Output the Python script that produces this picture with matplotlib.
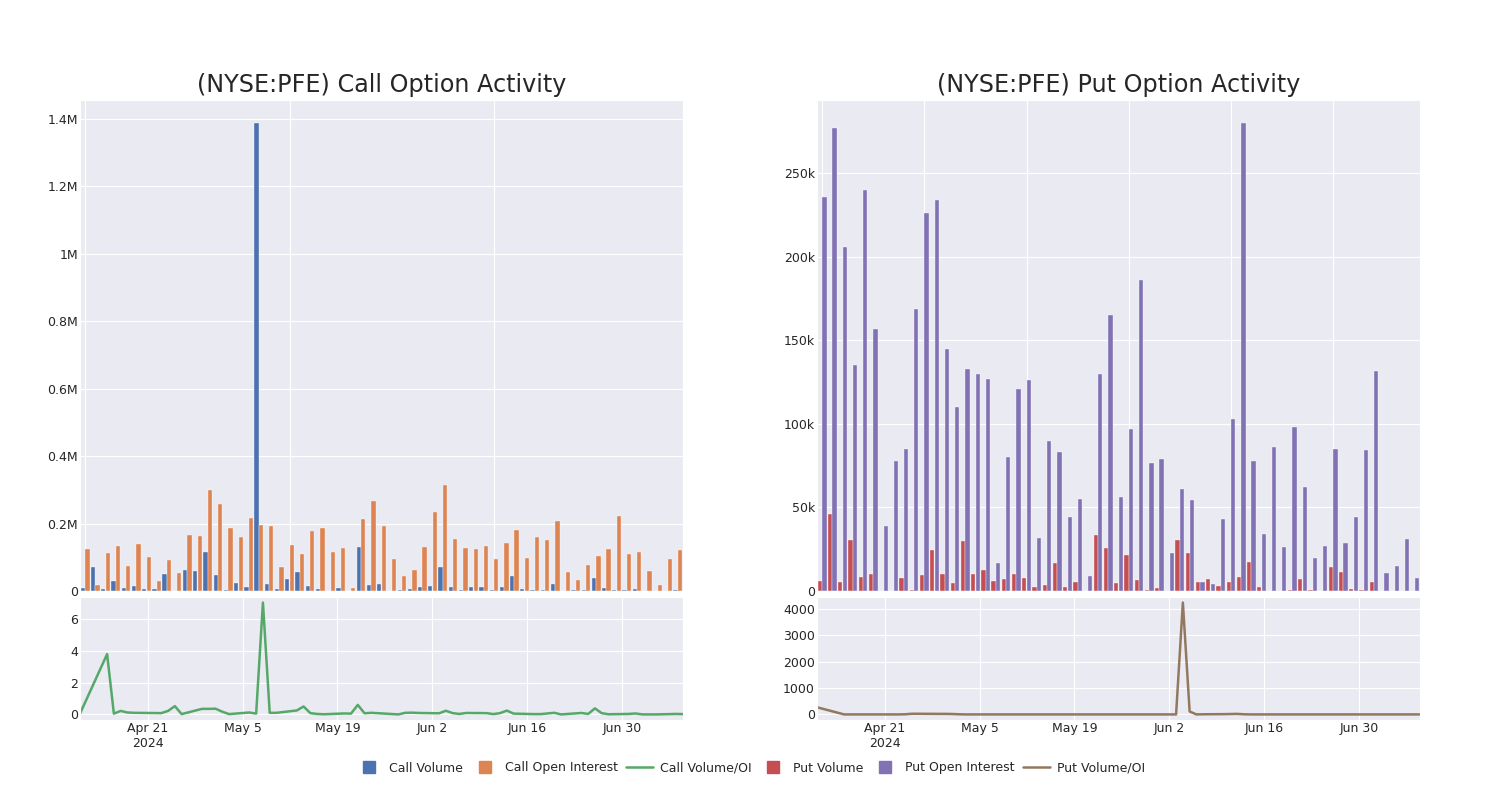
import numpy as np
import pandas as pd
import matplotlib
matplotlib.use("Agg")
import matplotlib.pyplot as plt
from matplotlib.ticker import FuncFormatter, MultipleLocator
from matplotlib.lines import Line2D
import seaborn as sns

sns.set_style("darkgrid")
plt.rcParams['font.family'] = ['DejaVu Sans']

# Fechas de negociación (59 sesiones)
fechas = pd.to_datetime([
    "2024-04-11", "2024-04-15", "2024-04-16", "2024-04-17", "2024-04-18",
    "2024-04-19", "2024-04-23", "2024-04-24", "2024-04-25", "2024-04-26",
    "2024-04-29", "2024-04-30", "2024-05-01", "2024-05-02", "2024-05-03",
    "2024-05-06", "2024-05-07", "2024-05-08", "2024-05-09", "2024-05-10",
    "2024-05-13", "2024-05-14", "2024-05-15", "2024-05-16", "2024-05-17",
    "2024-05-20", "2024-05-21", "2024-05-22", "2024-05-23", "2024-05-24",
    "2024-05-28", "2024-05-29", "2024-05-30", "2024-05-31", "2024-06-03",
    "2024-06-04", "2024-06-05", "2024-06-06", "2024-06-07", "2024-06-10",
    "2024-06-11", "2024-06-12", "2024-06-13", "2024-06-14", "2024-06-17",
    "2024-06-18", "2024-06-20", "2024-06-21", "2024-06-24", "2024-06-25",
    "2024-06-26", "2024-06-27", "2024-06-28", "2024-07-01", "2024-07-02",
    "2024-07-03", "2024-07-05", "2024-07-08", "2024-07-09",
])

# Calls (valores en millones)
call_volume = [
    0.010, 0.071, 0.006, 0.031, 0.009, 0.015, 0.007, 0.007, 0.049, 0.001,
    0.061, 0.058, 0.115, 0.046, 0.004, 0.023, 0.012, 1.386, 0.020, 0.005,
    0.035, 0.055, 0.015, 0.006, 0.001, 0.008, 0.000, 0.130, 0.017, 0.021,
    0.001, 0.004, 0.007, 0.012, 0.016, 0.071, 0.013, 0.004, 0.011, 0.011,
    0.002, 0.011, 0.043, 0.005, 0.002, 0.003, 0.020, 0.000, 0.003, 0.002,
    0.040, 0.010, 0.003, 0.003, 0.007, 0.000, 0.000, 0.000, 0.003,
]
call_oi = [
    0.125, 0.018, 0.114, 0.134, 0.075, 0.140, 0.100, 0.030, 0.093, 0.054,
    0.166, 0.162, 0.299, 0.257, 0.187, 0.160, 0.216, 0.197, 0.193, 0.071,
    0.137, 0.109, 0.178, 0.187, 0.117, 0.126, 0.009, 0.212, 0.267, 0.194,
    0.094, 0.044, 0.062, 0.131, 0.235, 0.313, 0.155, 0.128, 0.125, 0.132,
    0.094, 0.143, 0.182, 0.097, 0.159, 0.150, 0.208, 0.055, 0.032, 0.076,
    0.105, 0.125, 0.221, 0.109, 0.115, 0.060, 0.018, 0.094, 0.122,
]
call_ratio = [
    0.05, 3.8, 0.05, 0.22, 0.12, 0.10, 0.08, 0.22, 0.52, 0.02,
    0.35, 0.35, 0.36, 0.17, 0.02, 0.12, 0.05, 7.05, 0.10, 0.10,
    0.25, 0.50, 0.08, 0.03, 0.01, 0.06, 0.05, 0.60, 0.07, 0.10,
    0.00, 0.10, 0.11, 0.09, 0.07, 0.23, 0.08, 0.03, 0.09, 0.08,
    0.02, 0.08, 0.24, 0.05, 0.02, 0.02, 0.10, 0.00, 0.09, 0.03,
    0.38, 0.08, 0.01, 0.03, 0.06, 0.00, 0.00, 0.03, 0.02,
]

# Puts (valores en miles)
put_volume = [
    6.0, 46.0, 5.4, 30.6, 8.4, 10.2, 0.2, 0.2, 7.6, 0.8,
    9.8, 24.6, 10.0, 4.8, 30.0, 10.4, 12.6, 6.0, 7.2, 10.4,
    7.8, 2.6, 3.6, 16.8, 2.2, 5.6, 0.0, 33.6, 25.8, 4.8,
    21.4, 6.8, 0.4, 2.0, 0.0, 30.8, 23.0, 5.2, 7.2, 3.0,
    5.4, 8.2, 17.2, 2.2, 0.2, 0.2, 0.4, 7.0, 0.6, 0.0,
    14.4, 11.4, 1.0, 0.4, 5.4, 0.0, 0.2, 0.2, 0.0,
]
put_oi = [
    236, 277, 206, 135, 240, 157, 39, 78, 85, 169,
    226, 234, 145, 110, 133, 130, 127, 17, 80, 121,
    126, 32, 90, 83, 44, 55, 9, 130, 165, 56,
    96.8, 186, 76.4, 79, 23, 61.2, 54.2, 5.4, 4.4, 42.8,
    102.8, 279.8, 77.8, 34.4, 86.4, 26.6, 98.4, 62, 20, 27.2,
    85.2, 29, 44.2, 84.6, 131.4, 10.6, 15.2, 31.2, 7.8,
]
put_ratio = [
    270, 0, 0, 0, 0, 0, 0, 5, 25, 25,
    20, 20, 15, 5, 0, 0, 0, 0, 0, 0,
    0, 0, 0, 0, 0, 0, 0, 0, 0, 0,
    0, 0, 0, 0, 0, 4230, 110, 0, 5, 10,
    15, 20, 5, 0, 0, 0, 0, 0, 0, 0,
    0, 0, 0, 0, 0, 0, 0, 0, 0,
]

azul = "#4C72B0"
naranja = "#DD8452"
verde = "#55A868"
rojo = "#C44E52"
morado = "#8172B3"
marron = "#937860"

ticks_fechas = pd.to_datetime(["2024-04-21", "2024-05-05", "2024-05-19",
                               "2024-06-02", "2024-06-16", "2024-06-30"])
etiquetas_fechas = ["Apr 21\n2024", "May 5", "May 19", "Jun 2", "Jun 16", "Jun 30"]


def fmt_m(v, pos):
    return "0" if v == 0 else f"{v:g}M"


def fmt_k(v, pos):
    return "0" if v == 0 else f"{v:g}k"


fig = plt.figure(figsize=(15, 8), dpi=100)


def panel(x0, titulo, vol, oi, ratio, c_vol, c_oi, c_ratio, fmt, paso_grid, paso_ratio):
    ax_b = fig.add_axes([x0, 0.26125, 0.402, 0.61375])
    ax_l = fig.add_axes([x0, 0.10, 0.402, 0.15375])
    x = np.arange(len(vol))
    ax_b.bar(x - 0.22, vol, width=0.42, color=c_vol, edgecolor="white", linewidth=0.25)
    ax_b.bar(x + 0.22, oi, width=0.42, color=c_oi, edgecolor="white", linewidth=0.25)
    ax_b.set_xlim(-0.5, len(vol) - 0.5)
    ax_b.set_ylim(0, max(max(vol), max(oi)) * 1.05)
    ax_b.xaxis.set_major_locator(MultipleLocator(paso_grid))
    ax_b.set_xticklabels([])
    ax_b.yaxis.set_major_formatter(FuncFormatter(fmt))
    ax_b.tick_params(axis="both", length=0, pad=1.5, labelsize=9)
    ax_b.set_title(titulo, fontsize=17.2, pad=6)

    ax_l.plot(fechas, ratio, color=c_ratio, linewidth=1.8)
    ax_l.set_xlim(fechas[0], fechas[-1])
    ax_l.yaxis.set_major_locator(MultipleLocator(paso_ratio))
    ax_l.set_xticks(ticks_fechas)
    ax_l.set_xticklabels(etiquetas_fechas)
    ax_l.tick_params(axis="both", length=0, pad=1.5, labelsize=9)
    return ax_b, ax_l


panel(80 / 1500, "(NYSE:PFE) Call Option Activity", call_volume, call_oi, call_ratio,
      azul, naranja, verde, fmt_m, 20, 2)
panel(817 / 1500, "(NYSE:PFE) Put Option Activity", put_volume, put_oi, put_ratio,
      rojo, morado, marron, fmt_k, 10, 1000)

handles = [
    Line2D([], [], marker="s", linestyle="none", color=azul, markersize=9),
    Line2D([], [], marker="s", linestyle="none", color=naranja, markersize=9),
    Line2D([], [], color=verde, linewidth=1.8),
    Line2D([], [], marker="s", linestyle="none", color=rojo, markersize=9),
    Line2D([], [], marker="s", linestyle="none", color=morado, markersize=9),
    Line2D([], [], color=marron, linewidth=1.8),
]
labels = ["Call Volume", "Call Open Interest", "Call Volume/OI",
          "Put Volume", "Put Open Interest", "Put Volume/OI"]
fig.legend(handles, labels, loc="center", bbox_to_anchor=(0.5, 0.04), ncol=6,
           frameon=False, fontsize=9, handlelength=2.2, handletextpad=0.5,
           columnspacing=0.65)

fig.savefig("out.png", dpi=100)
